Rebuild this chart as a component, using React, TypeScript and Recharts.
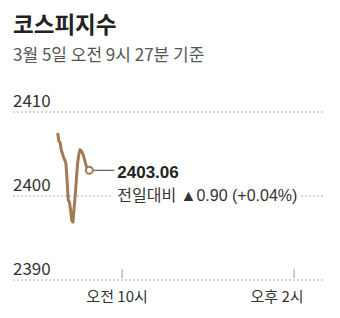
import { LineChart, Line, XAxis, YAxis, CartesianGrid } from 'recharts'

// 코스피지수, 3월 5일 오전 9시 ~ 9시 27분 (분 단위)
const minutes = [0, 1, 2, 3, 4, 5, 6, 7, 8, 9, 10, 11, 12, 13, 14, 15, 16, 17, 18, 19, 20, 21, 22, 23, 24, 25, 26, 27]
const kospi = [
  2407.5, 2406.5, 2406.4, 2405.5, 2405.1, 2404.6, 2404.3, 2403.9, 2401.9, 2399.5,
  2399.3, 2398.3, 2397.1, 2396.9, 2398.6, 2400.1, 2402.1, 2403.9, 2404.9, 2405.5,
  2405.4, 2405.2, 2404.8, 2404.3, 2403.8, 2403.3, 2403.1, 2403.06,
]
const yTicks = [2390, 2400, 2410]
const xTicks = [55, 202]
const xTickLabels = ['오전 10시', '오후 2시']
const lastLabel = '2403.06'
const changeLabel = '전일대비 ▲0.90 (+0.04%)'

const data = minutes.map((m, i) => ({ m, v: kospi[i] }))

const BROWN = '#a27a55'
const KR = "'Noto Sans CJK KR', sans-serif"
const NARROW = "'Liberation Sans Narrow', 'Noto Sans CJK KR', sans-serif"
const LATIN = "'Liberation Sans', 'Noto Sans CJK KR', sans-serif"

const YTick = (props: any) => {
  const { y, payload } = props
  return (
    <text x={13} y={y - 5} fontSize={17} fontFamily={NARROW} fill="#333" textAnchor="start">
      {payload.value}
    </text>
  )
}

const XTick = (props: any) => {
  const { x, y, index } = props
  const shift = index === 0 ? -5 : -17
  return (
    <g>
      <line x1={x} x2={x} y1={y - 11} y2={y - 2} stroke="#999" strokeWidth={1} />
      <text x={x + shift} y={y + 22} fontSize={15} fontFamily={NARROW} fill="#333" textAnchor="middle">
        {xTickLabels[index]}
      </text>
    </g>
  )
}

const EndDot = (props: any) => {
  const { cx, cy, index } = props
  if (index !== data.length - 1) return <g key={index} />
  return (
    <g key={index}>
      <line x1={cx + 3} x2={cx + 25} y1={cy} y2={cy} stroke="#444" strokeWidth={1} />
      <circle cx={cx} cy={cy} r={3.5} fill="#fff" stroke={BROWN} strokeWidth={2} />
      <text x={cx + 28} y={cy + 7.5} fontSize={17} fontWeight="bold" fontFamily={LATIN} fill="#222">
        {lastLabel}
      </text>
      <rect x={cx + 24} y={cy + 16} width={186} height={20} fill="#fff" />
      <text x={cx + 28} y={cy + 30.5} fontSize={16} fontFamily={LATIN} fill="#333">
        {changeLabel}
      </text>
    </g>
  )
}

export default function App() {
  return (
    <div style={{ position: 'absolute', left: 0, top: 0, width: 340, height: 318, background: '#fff' }}>
      <div style={{ position: 'absolute', left: 13, top: 12, fontSize: 22.5, lineHeight: '22px', fontWeight: 'bold', fontFamily: KR, color: '#222' }}>
        코스피지수
      </div>
      <div style={{ position: 'absolute', left: 13, top: 45, fontSize: 17, lineHeight: '17px', fontFamily: NARROW, color: '#555' }}>
        3월 5일 오전 9시 27분 기준
      </div>
      <div style={{ position: 'absolute', left: 0, top: 0 }}>
        <LineChart width={340} height={318} data={data} margin={{ top: 112, right: 15, bottom: 0, left: 12 }}>
          <CartesianGrid vertical={false} stroke="#aaa" strokeDasharray="2 2" />
          <XAxis
            type="number"
            dataKey="m"
            domain={[-38.2, 228.4]}
            ticks={xTicks}
            height={38}
            axisLine={false}
            tickLine={false}
            tickSize={0}
            tickMargin={0}
            tick={<XTick />}
            interval={0}
          />
          <YAxis
            type="number"
            domain={[2390, 2410]}
            ticks={yTicks}
            width={1}
            axisLine={false}
            tickLine={false}
            tick={<YTick />}
            interval={0}
          />
          <Line
            type="linear"
            dataKey="v"
            stroke={BROWN}
            strokeWidth={3}
            strokeLinejoin="round"
            dot={EndDot}
            activeDot={false}
            isAnimationActive={false}
          />
        </LineChart>
      </div>
    </div>
  )
}
